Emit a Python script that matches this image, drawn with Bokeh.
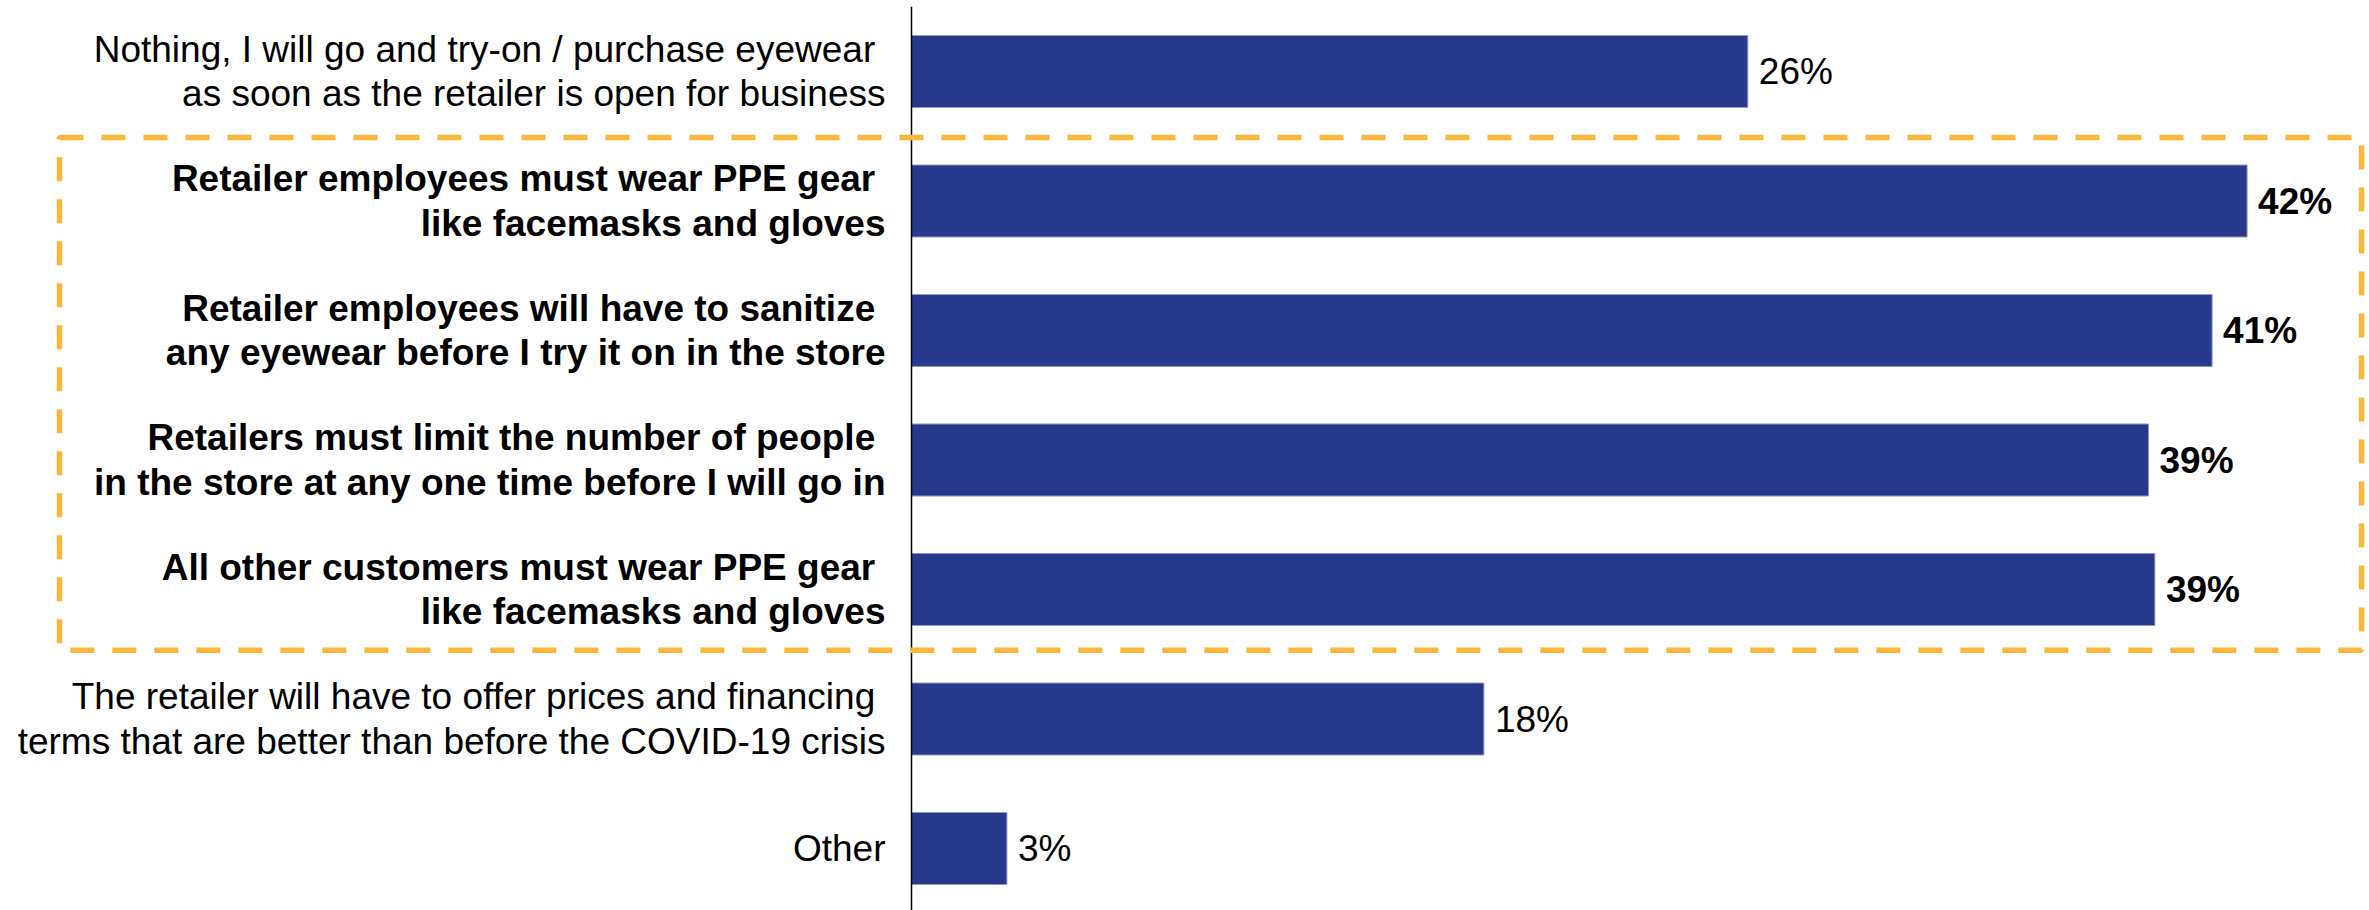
from bokeh.plotting import figure
from bokeh.models import Range1d, ColumnDataSource
from bokeh.core.properties import value
from bokeh.embed import file_html
from bokeh.resources import INLINE

categories = [
    "Nothing, I will go and try-on / purchase eyewear \nas soon as the retailer is open for business",
    "Retailer employees must wear PPE gear \nlike facemasks and gloves",
    "Retailer employees will have to sanitize \nany eyewear before I try it on in the store",
    "Retailers must limit the number of people \nin the store at any one time before I will go in",
    "All other customers must wear PPE gear \nlike facemasks and gloves",
    "The retailer will have to offer prices and financing \nterms that are better than before the COVID-19 crisis",
    "Other",
]
values = [26.3, 42.0, 40.9, 38.9, 39.1, 18.0, 3.0]
value_labels = ["26%", "42%", "41%", "39%", "39%", "18%", "3%"]
highlighted = [False, True, True, True, True, False, False]

BAR_COLOR = "#28388A"
BOX_COLOR = "#FBB73C"
FONT = "Liberation Sans"

W, H = 2369, 910
AXIS_PX = 911
PX_PER_UNIT_X = 31.8
PX_PER_UNIT_Y = 129.5
FIRST_CENTER_PX = 71

x0 = -AXIS_PX / PX_PER_UNIT_X
x1 = (W - AXIS_PX) / PX_PER_UNIT_X
y_top = -FIRST_CENTER_PX / PX_PER_UNIT_Y
y_bot = (H - FIRST_CENTER_PX) / PX_PER_UNIT_Y

p = figure(width=W, height=H, output_backend="svg", toolbar_location=None,
           x_range=Range1d(x0, x1), y_range=Range1d(y_bot, y_top),
           min_border=0, min_border_left=0, min_border_right=0,
           min_border_top=0, min_border_bottom=0)
p.axis.visible = False
p.grid.visible = False
p.outline_line_color = None
p.background_fill_color = "white"
p.border_fill_color = "white"

idx = list(range(len(categories)))
src = ColumnDataSource(dict(
    y=idx, v=values, lab=value_labels, cat=categories,
    style=["bold" if h else "normal" for h in highlighted],
))

# bars
p.hbar(y="y", left=0, right="v", height=0.556, source=src,
       fill_color=BAR_COLOR, line_color="#8F9AC8", line_width=1)

# axis line
p.segment(x0=[0], y0=[-0.5], x1=[0], y1=[y_bot + 0.1], line_color="black", line_width=1.5)

# category labels
p.text(x=-26 / PX_PER_UNIT_X, y="y", text="cat", source=src,
       text_align="right", text_baseline="middle",
       text_font=value(FONT), text_font_size="37px", text_font_style="style",
       text_line_height=1.08, text_color="black")

# value labels
p.text(x="v", y="y", text="lab", source=src, x_offset=11,
       text_align="left", text_baseline="middle",
       text_font=value(FONT), text_font_size="37px", text_font_style="style",
       text_color="black")

# highlight box around emphasised categories
hi = [i for i, h in enumerate(highlighted) if h]
box_left = (59 - AXIS_PX) / PX_PER_UNIT_X
box_right = (2361 - AXIS_PX) / PX_PER_UNIT_X
p.quad(left=[box_left], right=[box_right], top=[min(hi) - 0.49], bottom=[max(hi) + 0.47],
       fill_color=None, line_color=BOX_COLOR, line_width=5.5, line_dash="24 18")

open("out.html", "w").write(file_html(p, INLINE))
